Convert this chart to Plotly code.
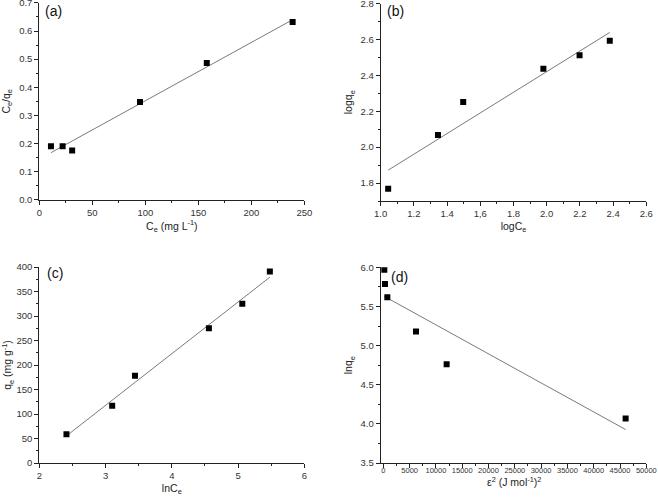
import numpy as np
import plotly.graph_objects as go

# (a) Langmuir
ce_a = [11, 22, 31, 95, 158, 239]
ceqe_a = [0.19, 0.19, 0.175, 0.348, 0.486, 0.632]

# (b) Freundlich
logce_b = [1.045, 1.345, 1.497, 1.98, 2.198, 2.38]
logqe_b = [1.768, 2.068, 2.252, 2.437, 2.512, 2.592]

# (c) Temkin
lnce_c = [2.41, 3.10, 3.444, 4.56, 5.064, 5.48]
qe_c = [58.5, 117, 178, 275, 325, 391]

# (d) Dubinin-Radushkevich
eps2_d = [190, 317, 760, 6210, 12040, 46070]
lnqe_d = [5.97, 5.787, 5.617, 5.18, 4.76, 4.067]

b_ticks = [1.0, 1.2, 1.4, 1.6, 1.8, 2.0, 2.2, 2.4, 2.6]
b_ticktext = ["1.0", "1.2", "1.4", "1,6", "1.8", "2.0", "2.2", "2.4", "2.6"]

W, H = 658, 497
FONT = "Liberation Sans, Arial, sans-serif"


def px_x(a, b):
    return [a / W, b / W]


def px_y(top, bottom):
    return [1 - bottom / H, 1 - top / H]


panels = [
    dict(x=ce_a, y=ceqe_a, xd=px_x(39.3, 304.3), yd=px_y(2.9, 199.8),
         xr=[0, 250], yr=[0, 0.70001], dx=50, dy=0.1,
         xt="C<sub>e</sub> (mg L<sup>-1</sup>)", yt="C<sub>e</sub>/q<sub>e</sub>",
         label="(a)", lx=43, ly=11, xfmt="d", yfmt=".1f", ys=9),
    dict(x=logce_b, y=logqe_b, xd=px_x(380.7, 646.3), yd=px_y(3.5, 201),
         xr=[1.0, 2.6], yr=[1.7, 2.8], dx=0.2, dy=0.2,
         xt="logC<sub>e</sub>", yt="logq<sub>e</sub>",
         label="(b)", lx=385, ly=11, xfmt=".1f", yfmt=".1f", ys=5),
    dict(x=lnce_c, y=qe_c, xd=px_x(39.3, 304.3), yd=px_y(267, 463),
         xr=[2, 6], yr=[0, 400], dx=1, dy=50,
         xt="lnC<sub>e</sub>", yt="q<sub>e</sub> (mg g<sup>-1</sup>)",
         label="(c)", lx=45, ly=273, xfmt="d", yfmt="d", ys=6),
    dict(x=eps2_d, y=lnqe_d, xd=px_x(380.7, 646.3), yd=px_y(267.3, 463),
         xr=[-500, 50000], yr=[3.5, 6.0], dx=5000, dy=0.5,
         xt="ε<sup>2</sup> (J mol<sup>-1</sup>)<sup>2</sup>", yt="lnq<sub>e</sub>",
         label="(d)", lx=389, ly=277, xfmt="d", yfmt=".1f", ys=5),
]

fig = go.Figure()
annotations = []
layout = {}
for i, p in enumerate(panels, start=1):
    xa = "x" if i == 1 else f"x{i}"
    ya = "y" if i == 1 else f"y{i}"
    xs = np.array(p["x"], dtype=float)
    ys = np.array(p["y"], dtype=float)
    slope, icpt = np.polyfit(xs, ys, 1)
    fx = np.array([xs.min(), xs.max()])
    fig.add_trace(go.Scatter(x=fx, y=slope * fx + icpt, mode="lines",
                             line=dict(color="#7a7a7a", width=1),
                             xaxis=xa, yaxis=ya, showlegend=False))
    fig.add_trace(go.Scatter(x=xs, y=ys, mode="markers",
                             marker=dict(symbol="square", size=6, color="black"),
                             xaxis=xa, yaxis=ya, showlegend=False))
    common = dict(showline=True, linecolor="#222", linewidth=1, showgrid=False,
                  zeroline=False, ticks="outside", ticklen=4, tickwidth=1,
                  tickcolor="#222", automargin=False, tickangle=0,
                  ticklabeloverflow="allow",
                  tickfont=dict(size=9.5, color="#333"))
    xkey = "xaxis" if i == 1 else f"xaxis{i}"
    ykey = "yaxis" if i == 1 else f"yaxis{i}"
    xax = dict(common, domain=p["xd"], range=p["xr"], anchor=ya,
               dtick=p["dx"], tick0=0, tickformat=p["xfmt"],
               minor=dict(dtick=p["dx"] / 2, ticks="outside", ticklen=2,
                          tickcolor="#222", showgrid=False),
               title=dict(text=p["xt"], font=dict(size=10.5, color="#222"), standoff=4))
    if i == 2:
        xax.update(tickmode="array", tickvals=b_ticks, ticktext=b_ticktext,
                   minor=dict(tickmode="array",
                              tickvals=[1.1, 1.3, 1.5, 1.7, 1.9, 2.1, 2.3, 2.5],
                              ticks="outside", ticklen=2, tickcolor="#222",
                              showgrid=False))
    if i == 4:
        # title placed as annotation so it can sit closer to the small tick labels
        xax["tickfont"] = dict(size=7.5, color="#333")
        xax["ticklabelstandoff"] = -4
        xax["title"] = dict(text="")
        annotations.append(dict(text=p["xt"], x=(p["xd"][0] + p["xd"][1]) / 2,
                                y=1 - 481 / H, xref="paper", yref="paper",
                                xanchor="center", yanchor="middle", showarrow=False,
                                font=dict(size=10.5, color="#222")))
    yax = dict(common, domain=p["yd"], range=p["yr"], anchor=xa,
               dtick=p["dy"], tick0=0, tickformat=p["yfmt"],
               minor=dict(dtick=p["dy"] / 2, ticks="outside", ticklen=2,
                          tickcolor="#222", showgrid=False),
               title=dict(text=p["yt"], font=dict(size=10.5, color="#222"),
                          standoff=p["ys"]))
    layout[xkey] = xax
    layout[ykey] = yax
    annotations.append(dict(text=p["label"], x=p["lx"] / W, y=1 - p["ly"] / H,
                            xref="paper", yref="paper", xanchor="left",
                            yanchor="middle", showarrow=False,
                            font=dict(size=14, color="#111")))

fig.update_layout(**layout)
fig.update_layout(width=W, height=H, margin=dict(l=0, r=0, t=0, b=0),
                  paper_bgcolor="white", plot_bgcolor="white",
                  font=dict(family=FONT, color="#222"),
                  annotations=annotations)
fig.write_html("out.html", config={"displayModeBar": False},
               post_script="document.body.style.margin='0';")
